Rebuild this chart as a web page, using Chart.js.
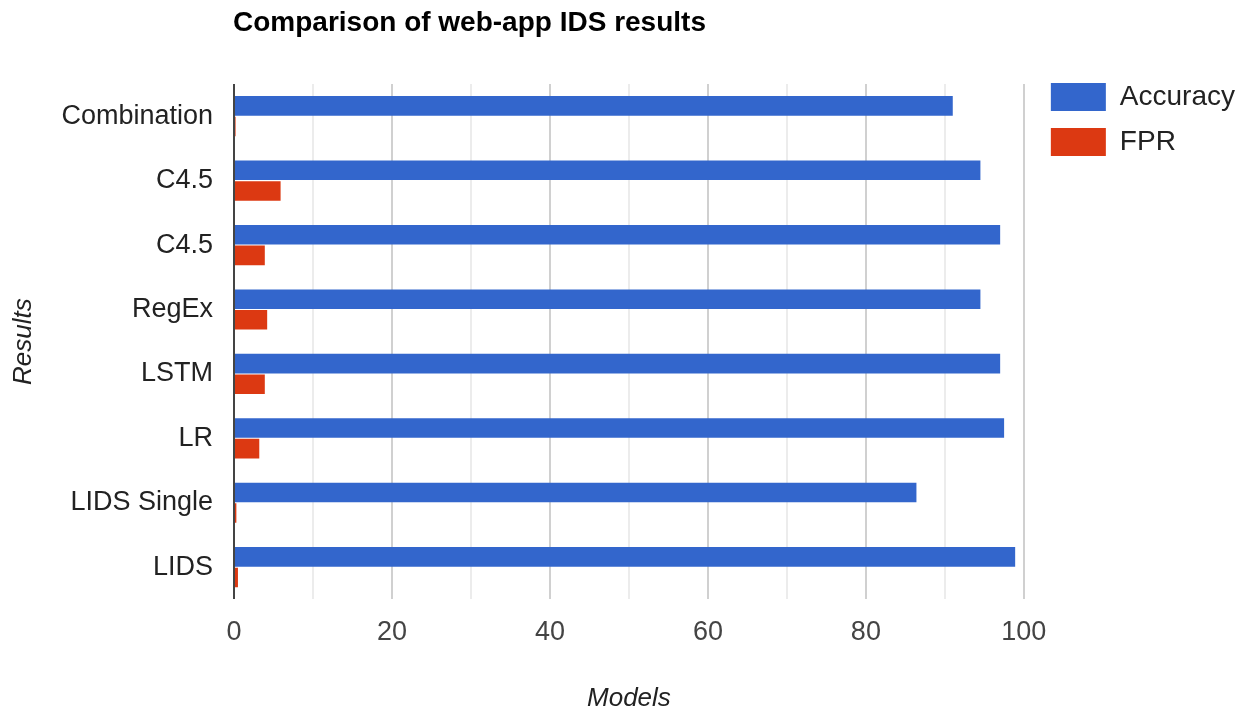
<!DOCTYPE html>
<html lang="en">
<head>
  <meta charset="UTF-8" />
  <title>Comparison of web-app IDS results</title>
  <script src="https://cdn.jsdelivr.net/npm/chart.js"></script>
  <style>
    body {
      margin: 0;
      background: #fff;
    }
    canvas {
      display: block;
    }
  </style>
</head>
<body>
  <canvas id="idsChart" width="1250" height="714"></canvas>
  <script>
    // Models, top to bottom
    const models = ['Combination', 'C4.5', 'C4.5', 'RegEx', 'LSTM', 'LR', 'LIDS Single', 'LIDS'];
    const accuracy = [91.0, 94.5, 97.0, 94.5, 97.0, 97.5, 86.4, 98.9];
    const fpr = [0.2, 5.9, 3.9, 4.2, 3.9, 3.2, 0.3, 0.5];

    const FONT = "'Liberation Sans', Arial, sans-serif";

    // title is drawn above the plot, lined up with its left edge,
    // and the legend is nudged to sit level with the top of the plot
    const titleAndLegend = {
      id: 'titleAndLegend',
      afterLayout(chart) {
        const lg = chart.legend;
        if (lg) {
          lg.top -= 18;
          lg.bottom -= 18;
          lg.left += 10;
          lg.right += 10;
        }
      },
      afterDraw(chart) {
        const c = chart.ctx;
        c.save();
        c.font = 'bold 28px ' + FONT;
        c.fillStyle = '#000';
        c.textBaseline = 'middle';
        c.textAlign = 'left';
        c.fillText('Comparison of web-app IDS results', chart.chartArea.left - 1, 23);
        c.restore();
      }
    };

    new Chart(document.getElementById('idsChart'), {
      type: 'bar',
      data: {
        labels: models,
        datasets: [
          {
            label: 'Accuracy',
            data: accuracy,
            backgroundColor: '#3366cc',
            borderWidth: 0
          },
          {
            label: 'FPR',
            data: fpr,
            backgroundColor: '#dc3912',
            borderWidth: 0
          }
        ]
      },
      options: {
        indexAxis: 'y',
        responsive: false,
        animation: false,
        layout: {
          padding: { top: 84, right: 15, left: 0, bottom: 0 }
        },
        datasets: {
          bar: {
            categoryPercentage: 0.64,
            barPercentage: 0.95
          }
        },
        plugins: {
          title: { display: false },
          tooltip: { enabled: false },
          legend: {
            position: 'right',
            align: 'start',
            labels: {
              boxWidth: 55,
              boxHeight: 28,
              padding: 17,
              color: '#222',
              font: { family: FONT, size: 28 }
            }
          }
        },
        scales: {
          x: {
            min: 0,
            max: 100,
            ticks: {
              stepSize: 10,
              color: '#444',
              padding: 17,
              maxRotation: 0,
              font: { family: FONT, size: 27 },
              callback: (v) => (v % 20 === 0 ? v : '')
            },
            grid: {
              drawTicks: false,
              lineWidth: 2,
              color: (ctx) => {
                const v = ctx.tick ? ctx.tick.value : 0;
                if (v === 0) return '#444';
                return v % 20 === 0 ? '#d0d0d0' : '#ececec';
              }
            },
            border: { display: false },
            title: {
              display: true,
              text: 'Models',
              color: '#222',
              padding: { top: 17, bottom: 0 },
              font: { family: FONT, size: 26, style: 'italic' }
            }
          },
          y: {
            ticks: {
              color: '#222',
              padding: 21,
              font: { family: FONT, size: 27 }
            },
            grid: { display: false, drawTicks: false },
            border: { display: false },
            title: {
              display: true,
              text: 'Results',
              color: '#222',
              padding: { top: 8, bottom: 0 },
              font: { family: FONT, size: 26, style: 'italic' }
            },
            afterFit(scale) {
              scale.width = 234;
            }
          }
        }
      },
      plugins: [titleAndLegend]
    });
  </script>
</body>
</html>
